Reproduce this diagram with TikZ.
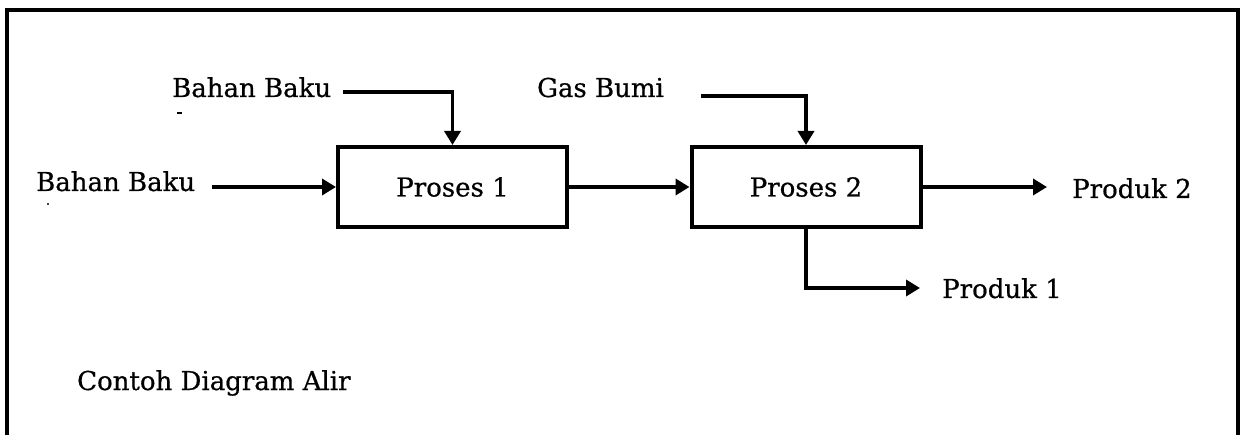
\documentclass[tikz,border=0pt]{standalone}
\usepackage{fontspec}
\setmainfont[FakeBold=0.6]{DejaVu Serif}
\usetikzlibrary{arrows.meta}
\begin{document}
\begin{tikzpicture}[x=1pt,y=-1pt,
  every node/.style={font=\fontsize{26pt}{30pt}\selectfont},
  lbl/.style={anchor=base west,inner sep=0pt},
  procbox/.style={draw,line width=4pt,minimum width=229pt,minimum height=80pt,inner sep=0pt},
  flow/.style={line width=3.5pt,-{Triangle[length=14pt,width=16pt]}},
  frame/.style={line width=3.5pt}]
\useasboundingbox (0,0) rectangle (1242,435);
\draw[frame] (7,436) -- (7,10) -- (1238,10) -- (1238,436);
\node[procbox] (p1) at (452.5,187) {Proses 1};
\node[procbox] (p2) at (806,187) {Proses 2};
\node[lbl] (bb1) at (36,191) {Bahan Baku};
\node[lbl] (bb2) at (172,97) {Bahan Baku};
\node[lbl] (gas) at (537,97) {Gas Bumi};
\node[lbl] (pr2) at (1072,198) {Produk 2};
\node[lbl] (pr1) at (942,298) {Produk 1};
\node[lbl] (cap) at (77,390) {Contoh Diagram Alir};
\coordinate (bb1e) at (212,187);
\coordinate (bb2e) at (343,92);
\coordinate (gase) at (701,96);
\coordinate (pr2s) at (1047,187);
\coordinate (pr1s) at (920,288);
\fill (176.5,112) rectangle (181.5,114.5);
\fill (48,204) circle (1.2pt);
\draw[flow] (bb1e) -- (p1.west);
\draw[flow] (bb2e) -| (p1.north);
\draw[flow] (p1.east) -- (p2.west);
\draw[flow] (gase) -| (p2.north);
\draw[flow] (p2.east) -- (pr2s);
\draw[flow] (p2.south) |- (pr1s);
\end{tikzpicture}
\end{document}
